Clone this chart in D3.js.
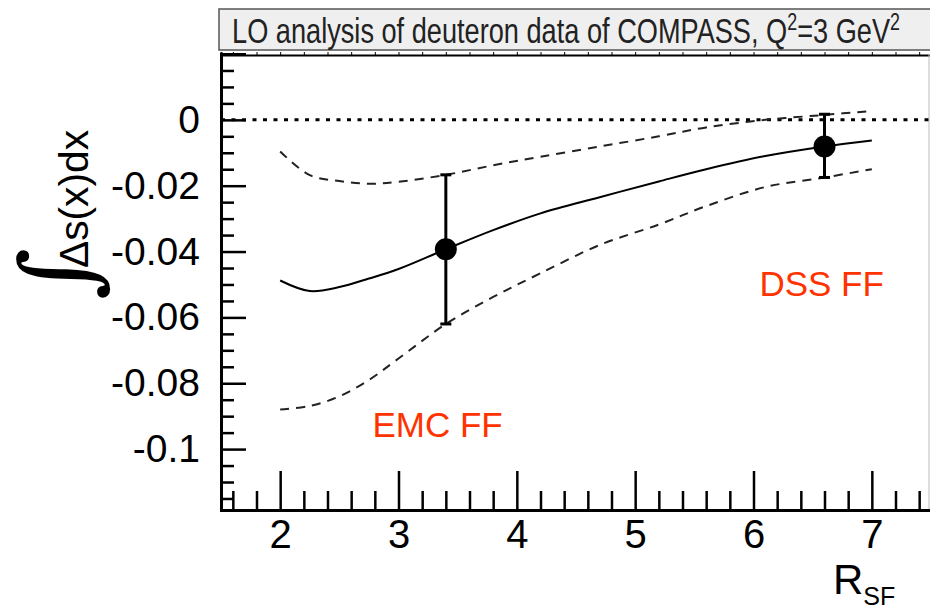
<!DOCTYPE html>
<html>
<head>
<meta charset="utf-8">
<script src="https://cdn.jsdelivr.net/npm/d3@7"></script>
<style>
  body { margin: 0; background: #fff; }
  svg { display: block; font-family: 'Liberation Sans', Arial, sans-serif; }
</style>
</head>
<body>
<div id="chart"></div>
<script>
const rsf = [2.0, 2.25, 2.5, 2.75, 3.0, 3.4, 3.8, 4.2, 4.7, 5.2, 5.6, 6.1, 6.6, 7.0]
const central = [-0.0488, -0.0520, -0.0508, -0.0482, -0.0453, -0.0393, -0.0335, -0.0284, -0.0235, -0.0187, -0.0150, -0.0110, -0.0081, -0.0063]
const upper = [-0.0096, -0.0168, -0.0186, -0.0194, -0.0188, -0.0167, -0.0138, -0.0112, -0.0081, -0.0050, -0.0023, 0.0000, 0.0015, 0.0027]
const lower = [-0.0880, -0.0869, -0.0840, -0.0790, -0.0725, -0.0620, -0.0538, -0.0466, -0.0380, -0.0318, -0.0262, -0.0204, -0.0175, -0.0150]

// the two fits (EMC FF, DSS FF)
const pointX = [3.4, 6.6]
const pointY = [-0.0393, -0.0081]
const pointLo = [-0.0620, -0.0175]
const pointHi = [-0.0167, 0.0017]

const xMajor = [2, 3, 4, 5, 6, 7]
const yMajor = [0, -0.02, -0.04, -0.06, -0.08, -0.1]
const yLabels = ['0', '-0.02', '-0.04', '-0.06', '-0.08', '-0.1']

const notes = [
  { text: 'EMC FF', x: 2.78, y: -0.0964 },
  { text: 'DSS FF', x: 6.05, y: -0.0535 }
]

const width = 930
const height = 612
const frame = { left: 221, right: 931, top: 54, bottom: 510 }

const x = d3.scaleLinear().domain([1.5, 7.5]).range([frame.left, frame.right])
const y = d3.scaleLinear().domain([-0.1185, 0.02]).range([frame.bottom, frame.top])

const svg = d3.select('#chart').append('svg')
  .attr('width', width)
  .attr('height', height)

// title box
svg.append('rect')
  .attr('x', 219).attr('y', 9)
  .attr('width', 740).attr('height', 41)
  .attr('fill', '#efefef')
  .attr('stroke', '#555')
  .attr('stroke-width', 1.5)

const title = svg.append('text')
  .attr('text-anchor', 'middle')
  .attr('font-size', 35)
  .attr('fill', '#222')
title.append('tspan').text('LO analysis of deuteron data of COMPASS, Q')
title.append('tspan').attr('dy', -13).attr('font-size', 23).text('2')
title.append('tspan').attr('dy', 13).text('=3 GeV')
title.append('tspan').attr('dy', -13).attr('font-size', 23).text('2')
// condensed look: squeeze the title to the width it has in the plot
const titleW = title.node().getBBox().width
title.attr('transform', `translate(566,43) scale(${668 / titleW},1)`)

// minor ticks
const xMinor = d3.range(1.6, 7.5, 0.2).filter(v => Math.abs(v - Math.round(v)) > 0.01)
const yMinor = d3.range(-0.115, 0.0199, 0.005).filter(v => Math.abs(v / 0.02 - Math.round(v / 0.02)) > 0.01)

// top edge with small ticks under the title box
svg.append('g')
  .attr('transform', `translate(0,${frame.top + 1})`)
  .call(d3.axisTop(x).tickValues(d3.range(1.6, 7.5, 0.2)).tickSize(3).tickFormat(''))
  .call(g => g.select('.domain').attr('stroke-width', 2))

// right edge
svg.append('line')
  .attr('x1', 929).attr('x2', 929)
  .attr('y1', frame.top).attr('y2', frame.bottom)
  .attr('stroke', '#bbb')

// zero line
svg.append('line')
  .attr('x1', frame.left).attr('x2', frame.right)
  .attr('y1', y(0)).attr('y2', y(0))
  .attr('stroke', '#000')
  .attr('stroke-width', 3)
  .attr('stroke-dasharray', '4,6.5')

// bands and central curve
const line = d3.line()
  .x((d, i) => x(rsf[i]))
  .y(d => y(d))
  .curve(d3.curveCatmullRom.alpha(0.5))

svg.append('path')
  .datum(upper)
  .attr('d', line)
  .attr('fill', 'none')
  .attr('stroke', '#222')
  .attr('stroke-width', 2)
  .attr('stroke-dasharray', '9,7')

svg.append('path')
  .datum(lower)
  .attr('d', line)
  .attr('fill', 'none')
  .attr('stroke', '#222')
  .attr('stroke-width', 2)
  .attr('stroke-dasharray', '9,7')

svg.append('path')
  .datum(central)
  .attr('d', line)
  .attr('fill', 'none')
  .attr('stroke', '#000')
  .attr('stroke-width', 2)

// error bars
const bars = svg.append('g')
pointX.forEach((px, i) => {
  bars.append('line')
    .attr('x1', x(px)).attr('x2', x(px))
    .attr('y1', y(pointLo[i])).attr('y2', y(pointHi[i]))
    .attr('stroke', '#000').attr('stroke-width', 3)
  ;[pointLo[i], pointHi[i]].forEach(v => {
    bars.append('line')
      .attr('x1', x(px) - 5.5).attr('x2', x(px) + 5.5)
      .attr('y1', y(v)).attr('y2', y(v))
      .attr('stroke', '#000').attr('stroke-width', 3)
  })
  bars.append('circle')
    .attr('cx', x(px)).attr('cy', y(pointY[i]))
    .attr('r', 11)
    .attr('fill', '#000')
})

// x axis
const xAxis = svg.append('g')
  .attr('transform', `translate(0,${frame.bottom})`)
xAxis.append('g')
  .call(d3.axisBottom(x).tickValues(xMinor).tickSize(-19).tickFormat(''))
xAxis.append('g')
  .call(d3.axisBottom(x).tickValues(xMajor).tickSize(-39).tickPadding(10).tickFormat(d3.format('d')))
xAxis.selectAll('.domain').attr('stroke-width', 3)
xAxis.selectAll('.tick line').attr('stroke-width', 2.5)
xAxis.selectAll('text')
  .attr('font-size', 40)
  .attr('font-family', "'Liberation Sans', Arial, sans-serif")
  .attr('fill', '#000')

// y axis
const yAxis = svg.append('g')
  .attr('transform', `translate(${frame.left},0)`)
yAxis.append('g')
  .call(d3.axisLeft(y).tickValues(yMinor).tickSize(-13).tickFormat(''))
yAxis.append('g')
  .call(d3.axisLeft(y).tickValues(yMajor).tickSize(-25).tickPadding(21)
    .tickFormat((d, i) => yLabels[i]))
yAxis.selectAll('.domain').attr('stroke-width', 3)
yAxis.selectAll('.tick line').attr('stroke-width', 2.5)
yAxis.selectAll('text')
  .attr('font-size', 39)
  .attr('font-family', "'Liberation Sans', Arial, sans-serif")
  .attr('fill', '#000')

// axis titles
const xTitle = svg.append('text')
  .attr('x', 833).attr('y', 594)
  .attr('font-size', 42)
xTitle.append('tspan').text('R')
xTitle.append('tspan').attr('dy', 11).attr('font-size', 25).text('SF')

svg.append('text')
  .attr('transform', 'translate(88,268) rotate(-90)')
  .attr('font-size', 40)
  .attr('textLength', 138)
  .attr('lengthAdjust', 'spacingAndGlyphs')
  .text('Δs(x)dx')

svg.append('text')
  .attr('transform', 'translate(92,300) rotate(-90)')
  .attr('font-family', "'DejaVu Serif', serif")
  .attr('font-size', 100)
  .text('∫')

// annotations
svg.selectAll('text.note')
  .data(notes)
  .enter()
  .append('text')
  .attr('class', 'note')
  .attr('x', d => x(d.x))
  .attr('y', d => y(d.y))
  .attr('font-size', 35)
  .attr('fill', '#ff3300')
  .text(d => d.text)
</script>
</body>
</html>
